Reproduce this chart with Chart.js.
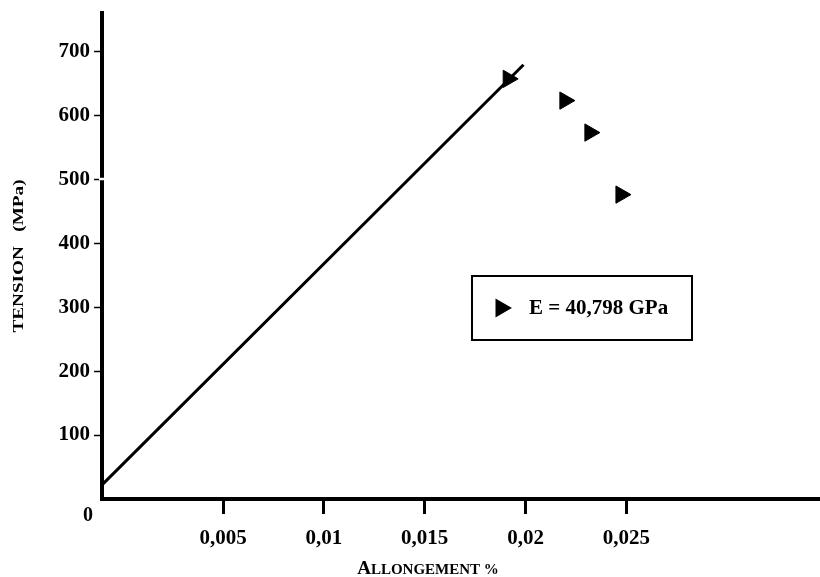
<!DOCTYPE html>
<html lang="fr">
<head>
	<meta charset="UTF-8">
	<title>tension / allongement</title>
	<style>
		body { margin: 0; background: #fff; }
		#wrap { width: 820px; height: 577px; position: relative; }
	</style>
</head>
<body>

<div id="wrap"><canvas id="myChart"></canvas></div>

<script src="https://cdn.jsdelivr.net/npm/chart.js@4.4.0/dist/chart.umd.min.js"></script>
<script>
// droite de Hooke (2 points)
var lineX = [-0.001, 0.0199];
var lineY = [22, 679];
// points mesures (triangles)
var pointX = [0.01914, 0.02195, 0.02319, 0.02473];
var pointY = [657, 623, 573, 476];
var legendLabel = 'E = 40,798 GPa';

var yTicks = [100, 200, 300, 400, 500, 600, 700];
var xTicks = [0.005, 0.01, 0.015, 0.02, 0.025];
var xTickLabels = ['0,005', '0,01', '0,015', '0,02', '0,025'];

var serif = "'Liberation Serif', 'Times New Roman', serif";

function pairs(xs, ys) {
    var out = [];
    for (var i = 0; i < xs.length; i++) out.push({x: xs[i], y: ys[i]});
    return out;
}

// titres d'axes, "0" du coin et cadre de legende
var extras = {
    id: 'extras',
    afterDraw: function(chart) {
        var c = chart.ctx, a = chart.chartArea;
        var ys = chart.scales.y;
        c.save();

        // petite coupure de l'axe y vers 500
        c.fillStyle = '#fff';
        c.fillRect(a.left - 3, ys.getPixelForValue(500) - 1.5, 7, 2.5);

        c.fillStyle = '#000';

        // "0" sous le coin
        c.font = 'bold 20px ' + serif;
        c.textAlign = 'center';
        c.textBaseline = 'middle';
        c.fillText('0', a.left - 14, a.bottom + 17);

        // titre y
        c.save();
        c.translate(19, 256);
        c.rotate(-Math.PI / 2);
        c.scale(1.28, 1);
        c.font = 'bold 15px ' + serif;
        c.fillText('TENSION   (MPa)', 0, 0);
        c.restore();

        // titre x en petites capitales
        var big = 'A', small = 'LLONGEMENT %';
        c.textAlign = 'left';
        c.textBaseline = 'alphabetic';
        c.font = 'bold 19px ' + serif;
        var w1 = c.measureText(big).width;
        c.font = 'bold 15px ' + serif;
        var w2 = c.measureText(small).width;
        var x0 = 428 - (w1 + w2) / 2;
        c.font = 'bold 19px ' + serif;
        c.fillText(big, x0, 574);
        c.font = 'bold 15px ' + serif;
        c.fillText(small, x0 + w1, 574);

        // legende
        var bx = a.left + 370, by = a.top + 263, bw = 220, bh = 64;
        c.lineWidth = 2;
        c.strokeStyle = '#000';
        c.strokeRect(bx, by, bw, bh);
        var ds = chart.data.datasets[1];
        Chart.helpers.drawPoint(c, {pointStyle: 'triangle', rotation: 90, radius: 9, borderWidth: 1}, bx + 29, by + bh / 2);
        c.fill();
        c.font = 'bold 21px ' + serif;
        c.textBaseline = 'middle';
        c.fillText(ds.label, bx + 57, by + bh / 2 + 1);
        c.restore();
    }
};

var ctx = document.getElementById('myChart').getContext('2d');
var chart = new Chart(ctx, {
    type: 'scatter',
    data: {
        datasets: [{
            label: 'droite',
            data: pairs(lineX, lineY),
            showLine: true,
            borderColor: '#000',
            borderWidth: 3,
            pointRadius: 0,
            fill: false
        }, {
            label: legendLabel,
            data: pairs(pointX, pointY),
            pointStyle: 'triangle',
            rotation: 90,
            pointRadius: 10,
            backgroundColor: '#000',
            borderColor: '#000',
            borderWidth: 1
        }]
    },
    options: {
        responsive: true,
        maintainAspectRatio: false,
        animation: false,
        layout: { autoPadding: false, padding: { top: 13, right: 0, left: 0, bottom: 0 } },
        plugins: {
            legend: { display: false },
            tooltip: { enabled: false }
        },
        scales: {
            x: {
                type: 'linear',
                min: -0.001,
                max: 0.0346,
                afterBuildTicks: function(s) { s.ticks = xTicks.map(function(v) { return {value: v}; }); },
                afterFit: function(s) { s.height = 78; s.paddingRight = 0; s.paddingLeft = 0; },
                border: { color: '#000', width: 4 },
                grid: { drawOnChartArea: false, drawTicks: true, tickLength: 15, tickWidth: 3, tickColor: '#000' },
                ticks: {
                    color: '#000',
                    padding: 12,
                    maxRotation: 0,
                    font: { family: serif, size: 21, weight: 'bold' },
                    callback: function(v) { return xTickLabels[xTicks.indexOf(v)]; }
                }
            },
            y: {
                min: 0,
                max: 760,
                afterBuildTicks: function(s) { s.ticks = yTicks.map(function(v) { return {value: v}; }); },
                afterFit: function(s) { s.width = 102; s.paddingTop = 0; s.paddingBottom = 0; },
                border: { color: '#000', width: 4 },
                grid: { drawOnChartArea: false, drawTicks: true, tickLength: 8, tickWidth: 1.5, tickColor: '#000' },
                ticks: {
                    color: '#000',
                    padding: 4,
                    font: { family: serif, size: 21, weight: 'bold' }
                }
            }
        }
    },
    plugins: [extras]
});
</script>
</body>
</html>
